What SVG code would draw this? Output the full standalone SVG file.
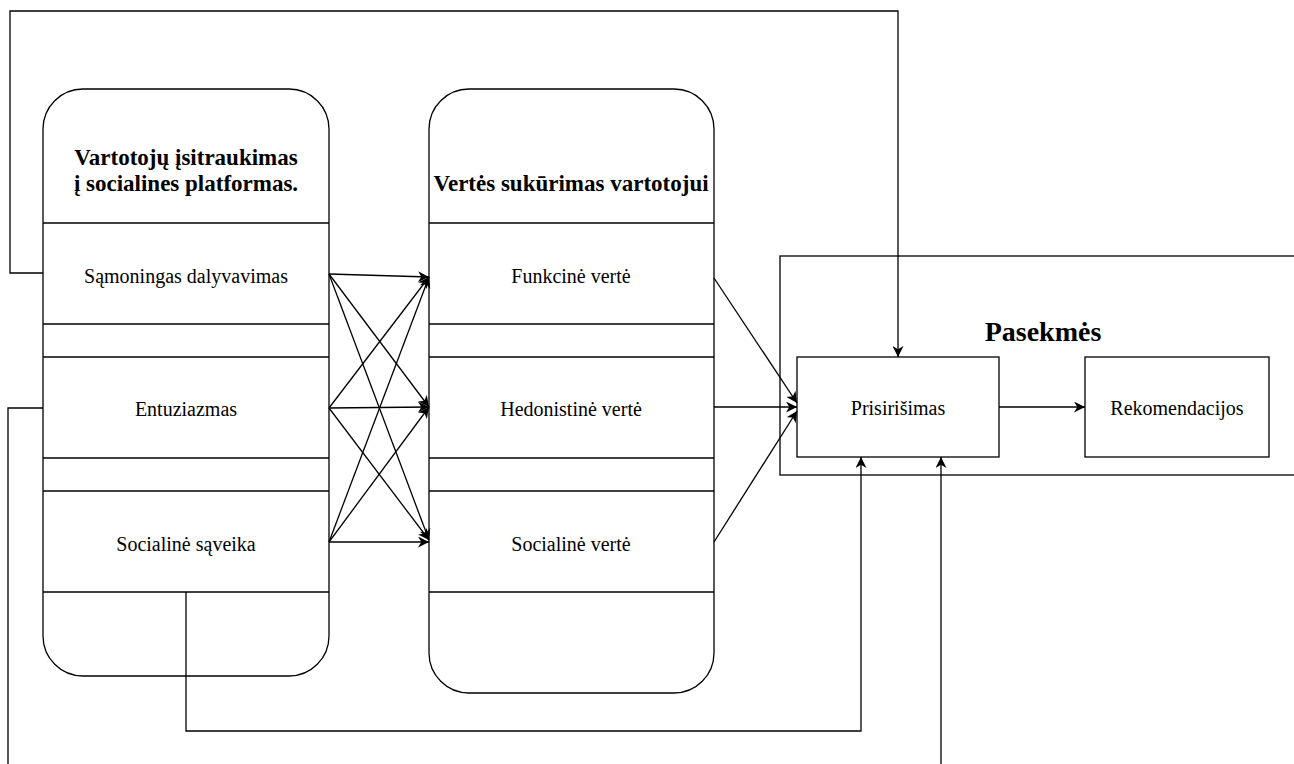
<svg xmlns="http://www.w3.org/2000/svg" width="1294" height="764" viewBox="0 0 1294 764">
<style>
.box{fill:#fff;stroke:#000;stroke-width:1.3}
.sep{stroke:#000;stroke-width:1.3;fill:none}
.ln{stroke:#000;stroke-width:1.3;fill:none}
.t{font-family:"Liberation Serif","Times New Roman",serif;font-size:20px;text-anchor:middle;fill:#000}
.h{font-family:"Liberation Serif","Times New Roman",serif;font-size:23px;font-weight:bold;text-anchor:middle;fill:#000}
.h2{font-family:"Liberation Serif","Times New Roman",serif;font-size:28px;font-weight:bold;text-anchor:middle;fill:#000}
</style>
<defs>
<marker id="a" viewBox="0 0 10 10" refX="10" refY="5" markerWidth="11" markerHeight="11" markerUnits="userSpaceOnUse" orient="auto">
<path d="M0,0 L10,5 L0,10 L3,5 Z" fill="#000"/>
</marker>
</defs>
<rect width="1294" height="764" fill="#fff"/>
<g id="container-pasekmes">
<rect x="780" y="256" width="520" height="219" class="box"/>
<text x="1043" y="341" class="h2">Pasekmės</text>
</g>
<g id="lane1">
<rect x="43" y="89" width="286" height="587" rx="40" ry="40" class="box"/>
<text x="186" y="165" class="h">Vartotojų įsitraukimas</text>
<text x="186" y="191" class="h">į socialines platformas.</text>
<line x1="43" y1="223" x2="329" y2="223" class="sep"/>
<line x1="43" y1="324" x2="329" y2="324" class="sep"/>
<line x1="43" y1="357" x2="329" y2="357" class="sep"/>
<line x1="43" y1="458" x2="329" y2="458" class="sep"/>
<line x1="43" y1="491" x2="329" y2="491" class="sep"/>
<line x1="43" y1="592" x2="329" y2="592" class="sep"/>
</g>
<g id="n-samoningas"><text x="186" y="283" class="t">Sąmoningas dalyvavimas</text></g>
<g id="n-entuziazmas"><text x="186" y="416" class="t">Entuziazmas</text></g>
<g id="n-socsaveika"><text x="186" y="551" class="t">Socialinė sąveika</text></g>
<g id="lane2">
<rect x="429" y="89" width="285" height="604" rx="40" ry="40" class="box"/>
<text x="571" y="191" class="h">Vertės sukūrimas vartotojui</text>
<line x1="429" y1="223" x2="714" y2="223" class="sep"/>
<line x1="429" y1="324" x2="714" y2="324" class="sep"/>
<line x1="429" y1="357" x2="714" y2="357" class="sep"/>
<line x1="429" y1="458" x2="714" y2="458" class="sep"/>
<line x1="429" y1="491" x2="714" y2="491" class="sep"/>
<line x1="429" y1="592" x2="714" y2="592" class="sep"/>
</g>
<g id="n-funkcine"><text x="571" y="283" class="t">Funkcinė vertė</text></g>
<g id="n-hedonistine"><text x="571" y="416" class="t">Hedonistinė vertė</text></g>
<g id="n-socverte"><text x="571" y="551" class="t">Socialinė vertė</text></g>
<g id="n-prisirisimas">
<rect x="797" y="357" width="202" height="100" class="box"/>
<text x="898" y="415" class="t">Prisirišimas</text>
</g>
<g id="n-rekomendacijos">
<rect x="1085" y="357" width="184" height="100" class="box"/>
<text x="1177" y="415" class="t">Rekomendacijos</text>
</g>
<g id="connectors">
<line x1="329" y1="274" x2="429" y2="277" class="ln" marker-end="url(#a)"/>
<line x1="329" y1="274" x2="429" y2="407" class="ln" marker-end="url(#a)"/>
<line x1="329" y1="274" x2="429" y2="540" class="ln" marker-end="url(#a)"/>
<line x1="329" y1="408" x2="429" y2="277" class="ln" marker-end="url(#a)"/>
<line x1="329" y1="408" x2="429" y2="407" class="ln" marker-end="url(#a)"/>
<line x1="329" y1="408" x2="429" y2="540" class="ln" marker-end="url(#a)"/>
<line x1="329" y1="542" x2="429" y2="277" class="ln" marker-end="url(#a)"/>
<line x1="329" y1="542" x2="429" y2="407" class="ln" marker-end="url(#a)"/>
<line x1="329" y1="542" x2="429" y2="542" class="ln" marker-end="url(#a)"/>
<line x1="714" y1="278" x2="797" y2="403" class="ln" marker-end="url(#a)"/>
<line x1="714" y1="407" x2="797" y2="407" class="ln" marker-end="url(#a)"/>
<line x1="714" y1="542" x2="797" y2="411" class="ln" marker-end="url(#a)"/>
<line x1="999" y1="407" x2="1085" y2="407" class="ln" marker-end="url(#a)"/>
<polyline points="43,273 10,273 10,11 898,11 898,357" class="ln" marker-end="url(#a)"/>
<polyline points="43,408 8,408 8,770" class="ln"/>
<polyline points="941,770 941,457" class="ln" marker-end="url(#a)"/>
<polyline points="186,592 186,731 861,731 861,457" class="ln" marker-end="url(#a)"/>
</g>
</svg>
